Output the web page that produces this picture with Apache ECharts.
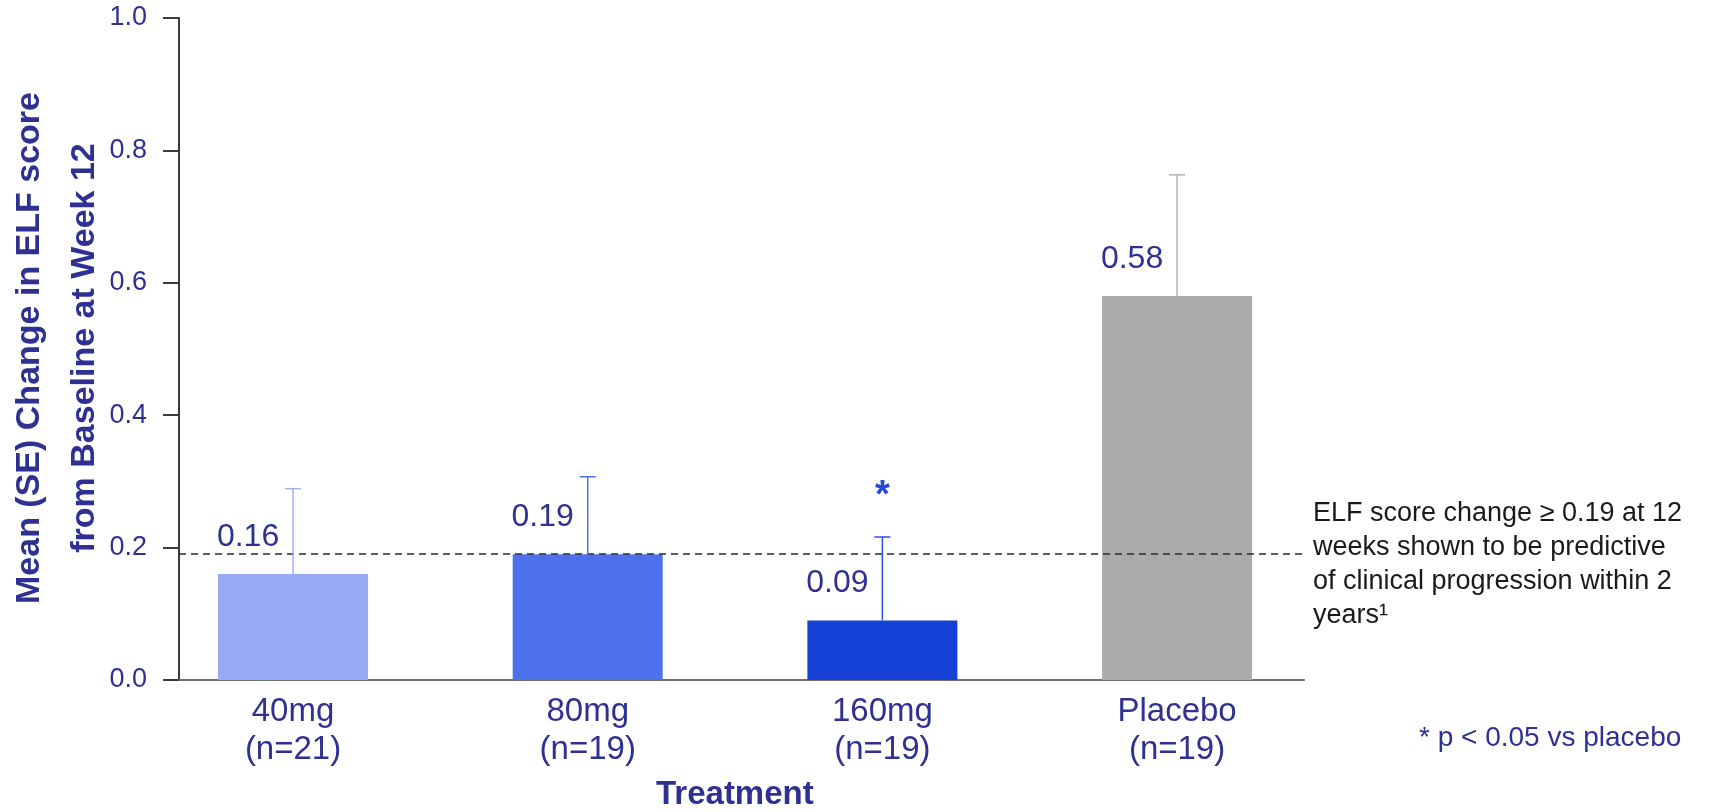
<!DOCTYPE html>
<html>
<head>
<meta charset="utf-8">
<title>ELF score change at week 12</title>
<script src="https://cdn.jsdelivr.net/npm/echarts@6/dist/echarts.min.js"></script>
<style>
    html, body { margin: 0; padding: 0; background: #ffffff; }
    #elfChart { width: 1725px; height: 812px; }
</style>
</head>
<body>
<div id="elfChart"></div>
<script>
// 数据
var doses = ['40mg', '80mg', '160mg', 'Placebo'];
var nCounts = [21, 19, 19, 19];
var meanChange = [0.16, 0.19, 0.09, 0.58];
var seChange = [0.129, 0.117, 0.126, 0.183];
var significance = ['', '', '*', ''];
var thresholdValue = 0.19;
var yTicks = [0, 0.2, 0.4, 0.6, 0.8, 1.0];
var yTitleLines = ['Mean (SE) Change in ELF score', 'from Baseline at Week 12'];

// 样式
var navy = '#2e3192';
var barColors = ['#96abf3', '#4d70ec', '#1541d6', '#ababab'];
var errColors = ['#9fb3f5', '#4d70ec', '#2a52e0', '#b4b4b4'];
var fontName = '"Liberation Sans", Arial, sans-serif';

var categories = [];
for (var i = 0; i < doses.length; i++) {
    categories.push(doses[i] + '\n(n=' + nCounts[i] + ')');
}

var barData = [];
var errData = [];
for (var i = 0; i < meanChange.length; i++) {
    barData.push({ value: meanChange[i], itemStyle: { color: barColors[i] } });
    errData.push([i, meanChange[i], meanChange[i] + seChange[i]]);
}

/**
 * 误差线 (只画上半部分) + 显著性星号
 */
function renderErrorBar(params, api) {
    var idx = api.value(0);
    var base = api.coord([idx, api.value(1)]);
    var top = api.coord([idx, api.value(2)]);
    var capHalf = 8;
    var color = errColors[params.dataIndex];
    var children = [{
        type : 'line',
        shape : { x1 : base[0], y1 : base[1], x2 : top[0], y2 : top[1] },
        style : { stroke : color, lineWidth : 1.5 }
    }, {
        type : 'line',
        shape : { x1 : top[0] - capHalf, y1 : top[1], x2 : top[0] + capHalf, y2 : top[1] },
        style : { stroke : color, lineWidth : 1.5 }
    }];
    if (significance[params.dataIndex]) {
        children.push({
            type : 'text',
            x : top[0],
            y : top[1] - 40,
            style : {
                text : significance[params.dataIndex],
                fill : '#2447d8',
                font : 'bold 38px ' + fontName,
                align : 'center',
                verticalAlign : 'middle'
            }
        });
    }
    return { type : 'group', children : children };
}

// y轴标题 (两行, 竖排)
var yTitleX = [30, 85];
var yTitleGraphics = [];
for (var i = 0; i < yTitleLines.length; i++) {
    yTitleGraphics.push({
        type : 'text',
        x : yTitleX[i],
        y : 348,
        rotation : Math.PI / 2,
        style : {
            text : yTitleLines[i],
            fill : navy,
            font : 'bold 34px ' + fontName,
            align : 'center',
            verticalAlign : 'middle'
        }
    });
}

var elfChart = echarts.init(document.getElementById('elfChart'));
elfChart.setOption({
    animation : false,
    textStyle : { fontFamily : fontName },
    grid : [
        { left : 179, top : 18, width : 1125, height : 662 },   // 坐标轴和阈值线
        { left : 145.7, top : 18, width : 1178.7, height : 662 } // 柱子
    ],
    xAxis : [{
        gridIndex : 0,
        type : 'value',
        min : 0,
        max : 1,
        axisLine : { show : true, lineStyle : { color : '#707070', width : 2 } },
        axisTick : { show : false },
        axisLabel : { show : false },
        splitLine : { show : false }
    }, {
        gridIndex : 1,
        type : 'category',
        data : categories,
        axisLine : { show : false },
        axisTick : { show : false },
        axisLabel : { color : navy, fontSize : 33, lineHeight : 38, margin : 13 }
    }],
    yAxis : [{
        gridIndex : 0,
        type : 'value',
        min : yTicks[0],
        max : yTicks[yTicks.length - 1],
        interval : 0.2,
        axisLine : { show : true, lineStyle : { color : '#3a3a3a', width : 2 } },
        axisTick : { show : true, length : 16, lineStyle : { color : '#3a3a3a', width : 2 } },
        axisLabel : {
            color : navy,
            fontSize : 27,
            margin : 32,
            formatter : function(v) { return v.toFixed(1); }
        },
        splitLine : { show : false }
    }, {
        gridIndex : 1,
        type : 'value',
        min : yTicks[0],
        max : yTicks[yTicks.length - 1],
        show : false
    }],
    series : [{
        name : 'threshold',
        type : 'line',
        xAxisIndex : 0,
        yAxisIndex : 0,
        data : [],
        markLine : {
            silent : true,
            symbol : 'none',
            label : { show : false },
            lineStyle : { color : '#2a2a2a', width : 1.5, type : [7, 5] },
            data : [{ yAxis : thresholdValue }]
        }
    }, {
        name : 'mean',
        type : 'bar',
        xAxisIndex : 1,
        yAxisIndex : 1,
        barWidth : 150,
        data : barData,
        label : {
            show : true,
            position : 'top',
            distance : 21,
            offset : [-45, 0],
            color : navy,
            fontSize : 32,
            formatter : function(p) { return p.value.toFixed(2); }
        }
    }, {
        name : 'se',
        type : 'custom',
        xAxisIndex : 1,
        yAxisIndex : 1,
        z : 5,
        renderItem : renderErrorBar,
        data : errData
    }],
    graphic : yTitleGraphics.concat([{
        type : 'text',
        left : 656,
        top : 778,
        style : {
            text : 'Treatment',
            fill : navy,
            font : 'bold 33px ' + fontName
        }
    }, {
        type : 'text',
        left : 1313,
        top : 497,
        style : {
            text : 'ELF score change \u2265 0.19 at 12\nweeks shown to be predictive\nof clinical progression within 2\nyears\u00b9',
            fill : '#1a1a1a',
            font : '27px ' + fontName,
            lineHeight : 34
        }
    }, {
        type : 'text',
        left : 1419,
        top : 724,
        style : {
            text : '* p < 0.05 vs placebo',
            fill : navy,
            font : '28px ' + fontName
        }
    }])
});
</script>
</body>
</html>
